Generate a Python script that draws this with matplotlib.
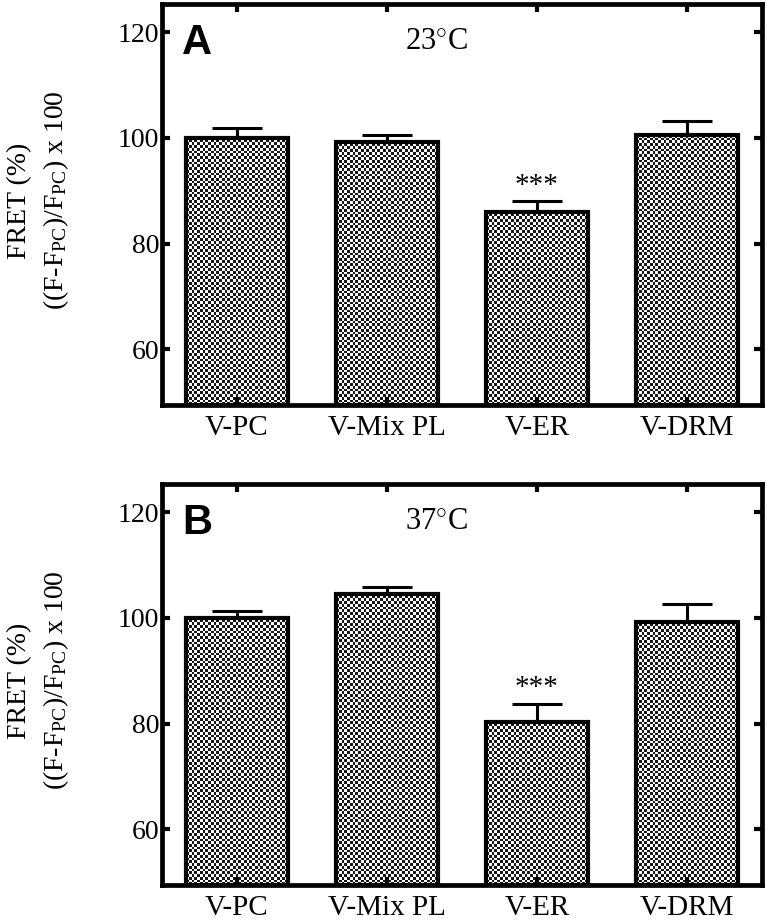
import numpy as np
import matplotlib
matplotlib.use("Agg")
import matplotlib.pyplot as plt

plt.rcParams['font.family'] = ['Liberation Serif', 'DejaVu Serif']
plt.rcParams['mathtext.fontset'] = 'custom'
plt.rcParams['mathtext.rm'] = 'Liberation Serif'
plt.rcParams['mathtext.it'] = 'Liberation Serif:italic'

categories = ['V-PC', 'V-Mix PL', 'V-ER', 'V-DRM']

# panel A, 23 C
values_a = [100.0, 99.3, 86.0, 100.5]
errors_a = [1.8, 1.3, 2.1, 2.7]
# panel B, 37 C
values_b = [100.0, 104.6, 80.4, 99.3]
errors_b = [1.2, 1.3, 3.4, 3.3]

panel_letters = ['A', 'B']
temperatures = ['23', '37']
signif = ['', '', '***', '']

yticks = [60, 80, 100, 120]
ylim = (49.5, 125.3)
bar_width = 0.68


def checker_fill(ax, fig, bar):
    """Fill a bar with a fine checkerboard like the printed figure."""
    bb = bar.get_window_extent(renderer=fig.canvas.get_renderer())
    cell = 2.7
    nx = max(int(bb.width / cell), 1)
    ny = max(int(bb.height / cell), 1)
    yy, xx = np.mgrid[0:ny, 0:nx]
    board = ((xx + yy) % 2).astype(float)
    x0 = bar.get_x()
    y0 = bar.get_y()
    img = ax.imshow(board, cmap='gray', vmin=-0.1, vmax=1.0,
                    extent=(x0, x0 + bar.get_width(), y0, y0 + bar.get_height()),
                    interpolation='nearest', aspect='auto', zorder=1)
    img.set_clip_path(bar)


def draw_panel(fig, ax, values, errors, letter, temp):
    x = np.arange(len(categories))
    bars = ax.bar(x, values, width=bar_width, bottom=0, facecolor='none',
                  edgecolor='black', linewidth=3.0, zorder=2)
    ax.errorbar(x, values, yerr=[np.zeros(len(errors)), errors], fmt='none',
                ecolor='black', elinewidth=2.2, capsize=18, capthick=2.2, zorder=3)
    ax.set_xlim(-0.5, 3.5)
    ax.set_ylim(*ylim)
    fig.canvas.draw()
    for b in bars:
        b.set_y(ylim[0])
        b.set_height(b.get_height() - ylim[0])
        checker_fill(ax, fig, b)

    for xi, v, e, s in zip(x, values, errors, signif):
        if s:
            ax.text(xi, v + e + 0.4, s, ha='center', va='bottom', fontsize=21)

    ax.set_xticks(x)
    ax.set_xticklabels(categories, fontsize=21)
    ax.set_yticks(yticks)
    ax.set_yticklabels([str(t) for t in yticks], fontsize=20)
    ax.tick_params(direction='in', length=6, width=3, top=True, right=True)
    ax.tick_params(axis='x', pad=7)
    ax.tick_params(axis='y', pad=2)
    for sp in ax.spines.values():
        sp.set_linewidth(3.4)

    ax.set_ylabel('FRET (%)\n((F-F$_{\\rm PC}$)/F$_{\\rm PC}$) x 100',
                  fontsize=20, linespacing=1.4)
    ax.yaxis.set_label_coords(-0.152, 0.51)
    ax.text(0.033, 0.952, letter, transform=ax.transAxes, fontsize=30,
            fontweight='bold', family='Liberation Sans', ha='left', va='top')
    ax.text(1.33, 118.3, temp + '$^{\\circ}$C', fontsize=22,
            ha='center', va='center')


fig = plt.figure(figsize=(7.67, 9.22), dpi=100)
ax_a = fig.add_axes([162 / 767, 1 - 405 / 922, 600 / 767, 401 / 922])
ax_b = fig.add_axes([162 / 767, 1 - 885 / 922, 600 / 767, 401 / 922])

draw_panel(fig, ax_a, values_a, errors_a, panel_letters[0], temperatures[0])
draw_panel(fig, ax_b, values_b, errors_b, panel_letters[1], temperatures[1])

fig.savefig('out.png', dpi=100)
